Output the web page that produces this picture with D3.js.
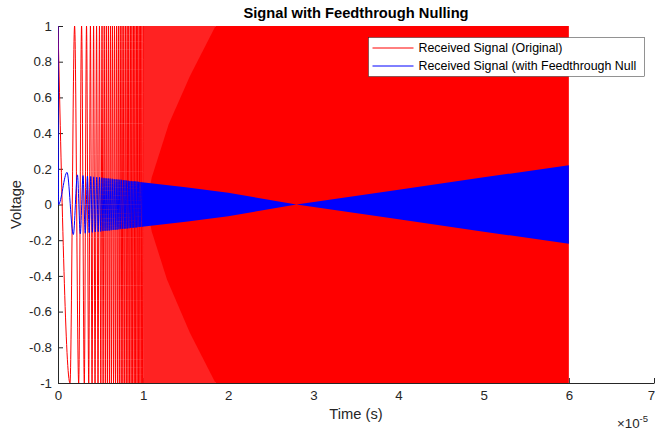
<!DOCTYPE html>
<html>
<head>
<meta charset="utf-8">
<script src="https://cdn.jsdelivr.net/npm/d3@7"></script>
<style>
body { margin: 0; background: #fff; }
svg { display: block; font-family: "Liberation Sans", Arial, sans-serif; }
</style>
</head>
<body>
<div class="chart"></div>
<script>
// tick values (time axis is in units of 1e-5 s)
const xTickValues = [0, 1, 2, 3, 4, 5, 6, 7];
const yTickValues = [-1, -0.8, -0.6, -0.4, -0.2, 0, 0.2, 0.4, 0.6, 0.8, 1];
const yTickLabels = ['-1', '-0.8', '-0.6', '-0.4', '-0.2', '0', '0.2', '0.4', '0.6', '0.8', '1'];

// red trace: times where the original signal touches +1 / -1 (readable strokes)
const redCrestTimes = [0, 0.195, 0.277, 0.335, 0.381, 0.418, 0.453, 0.487, 0.517, 0.543, 0.568,
    0.592, 0.616, 0.639, 0.663, 0.687, 0.709, 0.731, 0.752, 0.773, 0.793, 0.812, 0.831, 0.850,
    0.868, 0.886, 0.903, 0.921, 0.937, 0.954, 0.970, 0.986, 1.002];
const redTroughTimes = [0.141, 0.243, 0.309, 0.361, 0.400, 0.435, 0.470, 0.503, 0.530, 0.556,
    0.580, 0.604, 0.627, 0.652, 0.675, 0.698, 0.720, 0.742, 0.762, 0.783, 0.802, 0.822, 0.841,
    0.859, 0.877, 0.895, 0.912, 0.929, 0.946, 0.962, 0.978, 0.994];
// beyond the readable strokes the red trace fills the band -1..1
const redBandStart = 1.0;
const redBandEnd = 6.0;
const redSolidEdgeT = [1.85, 1.55, 1.3, 1.1, 1.04, 1.1, 1.28, 1.55, 1.85];
const redSolidEdgeV = [1, 0.72, 0.45, 0.15, 0, -0.15, -0.42, -0.72, -1];

// blue trace: turning points of the nulled signal
const blueTimes = [0, 0.006, 0.106, 0.180, 0.228, 0.262, 0.294, 0.320, 0.346, 0.366, 0.385, 0.403,
    0.420, 0.438, 0.455, 0.472, 0.488, 0.502, 0.515, 0.528, 0.541, 0.553, 0.565, 0.577, 0.589,
    0.601, 0.612, 0.624, 0.637, 0.648, 0.660, 0.672, 0.683, 0.694, 0.705, 0.716, 0.727, 0.737,
    0.747, 0.758, 0.768, 0.778, 0.787, 0.797, 0.807, 0.816, 0.826, 0.835, 0.844, 0.853, 0.862,
    0.871, 0.880, 0.888, 0.897, 0.906, 0.914, 0.922, 0.931, 0.939, 0.947, 0.955, 0.963, 0.971,
    0.979, 0.987];
const blueValues = [1, 0, 0.18, -0.168, 0.166, -0.164, 0.162, -0.161, 0.159, -0.158, 0.157, -0.156,
    0.155, -0.154, 0.153, -0.152, 0.152, -0.151, 0.150, -0.149, 0.149, -0.148, 0.147, -0.147, 0.146,
    -0.146, 0.145, -0.144, 0.144, -0.143, 0.142, -0.142, 0.141, -0.141, 0.140, -0.139, 0.139, -0.138,
    0.138, -0.137, 0.137, -0.136, 0.136, -0.135, 0.134, -0.134, 0.133, -0.133, 0.132, -0.132, 0.131,
    -0.131, 0.130, -0.130, 0.130, -0.129, 0.129, -0.128, 0.128, -0.127, 0.127, -0.126, 0.126, -0.126,
    0.125, -0.125];
// dense part: envelope of the blue band
const blueEnvT = [0.987, 1.5, 2.0, 2.8, 4.0, 5.0, 6.0];
const blueEnvV = [0.125, 0.097, 0.066, 0.0, 0.083, 0.152, 0.22];

// legend texts as they appear (the second one is truncated in the figure)
const legendLabels = ['Received Signal (Original)', 'Received Signal (with Feedthrough Null'];
const seriesColors = ['#ff0000', '#0000ff'];

const margin = { top: 26, right: 1, bottom: 48, left: 58 };
const fullWidth = 655;
const fullHeight = 431;
const width = fullWidth - margin.left - margin.right;
const height = fullHeight - margin.top - margin.bottom;
const axisColor = '#262626';

const svg = d3.select('.chart')
    .append('svg')
        .attr('width', fullWidth)
        .attr('height', fullHeight);

const chart = svg.append('g')
    .attr('transform', `translate(${margin.left}, ${margin.top})`);

const xScale = d3.scaleLinear().domain([0, 7]).range([0, width]);
const yScale = d3.scaleLinear().domain([-1, 1]).range([height, 0]);

const defs = svg.append('defs');
defs.append('clipPath')
    .attr('id', 'plot-clip')
    .append('rect')
        .attr('width', width)
        .attr('height', height);

// axes (ticks point inward, no box)
const xAxis = d3.axisBottom(xScale)
    .tickValues(xTickValues)
    .tickFormat(d3.format('d'))
    .tickSizeInner(-5)
    .tickSizeOuter(0)
    .tickPadding(8);

const yAxis = d3.axisLeft(yScale)
    .tickValues(yTickValues)
    .tickFormat((d, i) => yTickLabels[i])
    .tickSizeInner(-5)
    .tickSizeOuter(0)
    .tickPadding(6);

const styleAxis = g => {
    g.select('.domain').attr('stroke', axisColor);
    g.selectAll('.tick line').attr('stroke', axisColor);
    g.selectAll('.tick text')
        .attr('fill', axisColor)
        .style('font-size', '13.3px')
        .style('font-family', '"Liberation Sans", Arial, sans-serif');
};

chart.append('g')
    .attr('transform', `translate(0, ${height})`)
    .call(xAxis)
    .call(styleAxis)
    .selectAll('.tick text')
        .filter(d => d === 7)
        .attr('dx', -3);   // keep the last label inside the window

chart.append('g')
    .call(yAxis)
    .call(styleAxis);

const plot = chart.append('g').attr('clip-path', 'url(#plot-clip)');

// red trace
const redPoints = redCrestTimes.map(t => [t, 1])
    .concat(redTroughTimes.map(t => [t, -1]))
    .sort((a, b) => a[0] - b[0]);

plot.append('rect')
    .attr('x', xScale(redBandStart))
    .attr('y', yScale(1))
    .attr('width', xScale(redSolidEdgeT[0]) - xScale(redBandStart))
    .attr('height', yScale(-1) - yScale(1))
    .attr('fill', '#ff2222');

const solidEdge = redSolidEdgeT.map((t, i) => [t, redSolidEdgeV[i]])
    .concat([[redBandEnd, -1], [redBandEnd, 1]]);

plot.append('path')
    .datum(solidEdge)
    .attr('d', d3.line().x(d => xScale(d[0])).y(d => yScale(d[1])).curve(d3.curveLinearClosed))
    .attr('fill', seriesColors[0]);

plot.append('path')
    .datum(redPoints)
    .attr('d', d3.line().x(d => xScale(d[0])).y(d => yScale(d[1])).curve(d3.curveMonotoneX))
    .attr('fill', 'none')
    .attr('stroke', seriesColors[0])
    .attr('stroke-width', 1);

// blue trace
const bluePoints = blueTimes.map((t, i) => [t, blueValues[i]]);

plot.append('path')
    .datum(bluePoints)
    .attr('d', d3.line().x(d => xScale(d[0])).y(d => yScale(d[1])).curve(d3.curveMonotoneX))
    .attr('fill', 'none')
    .attr('stroke', seriesColors[1])
    .attr('stroke-width', 1);

plot.append('path')
    .datum(blueEnvT.map((t, i) => [t, blueEnvV[i]]))
    .attr('d', d3.area()
        .x(d => xScale(d[0]))
        .y0(d => yScale(-d[1]))
        .y1(d => yScale(d[1])))
    .attr('fill', seriesColors[1]);

// title and labels
svg.append('text')
    .attr('x', margin.left + width / 2)
    .attr('y', 18)
    .attr('text-anchor', 'middle')
    .style('font-size', '14.7px')
    .style('font-weight', 'bold')
    .attr('fill', '#000')
    .text('Signal with Feedthrough Nulling');

svg.append('text')
    .attr('x', margin.left + width / 2)
    .attr('y', 419)
    .attr('text-anchor', 'middle')
    .style('font-size', '14.7px')
    .attr('fill', axisColor)
    .text('Time (s)');

svg.append('text')
    .attr('transform', `translate(21, ${margin.top + height / 2}) rotate(-90)`)
    .attr('text-anchor', 'middle')
    .style('font-size', '14.7px')
    .attr('fill', axisColor)
    .text('Voltage');

const expo = svg.append('text')
    .attr('x', 617)
    .attr('y', 428)
    .style('font-size', '13.3px')
    .attr('fill', axisColor);
expo.append('tspan').text('\u00d710');
expo.append('tspan')
    .attr('dy', -6)
    .style('font-size', '9.5px')
    .text('-5');

// legend
const legendW = 276;
const legendH = 39;
const legend = svg.append('g').attr('transform', 'translate(368.5, 37.5)');

legend.append('rect')
    .attr('width', legendW)
    .attr('height', legendH)
    .attr('fill', '#fff')
    .attr('stroke', axisColor)
    .attr('stroke-width', 0.5);

legendLabels.forEach((label, i) => {
    const row = legend.append('g')
        .attr('transform', `translate(0, ${10 + i * 18})`);
    row.append('line')
        .attr('x1', 4)
        .attr('x2', 45)
        .attr('y1', 0.5)
        .attr('y2', 0.5)
        .style('stroke', seriesColors[i])
        .style('stroke-width', '1px');
    row.append('text')
        .attr('x', 50)
        .attr('dy', '0.35em')
        .style('font-size', '12.4px')
        .attr('fill', '#000')
        .text(label);
});
</script>
</body>
</html>
